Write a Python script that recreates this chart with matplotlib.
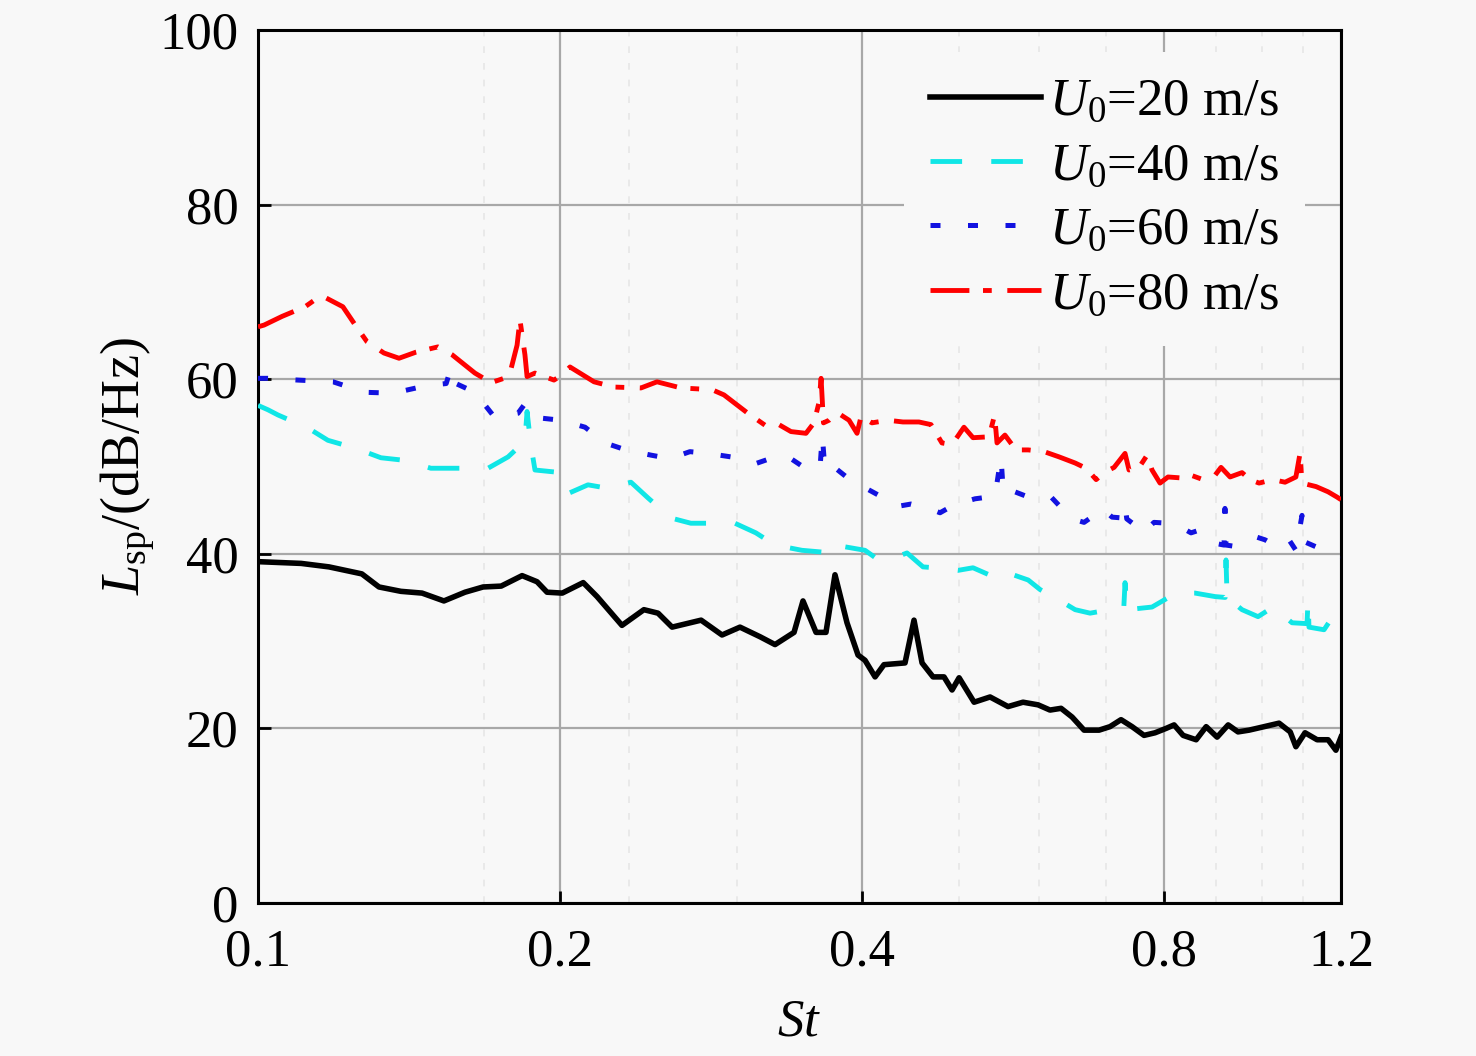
import matplotlib
matplotlib.use('Agg')
import matplotlib.pyplot as plt
from matplotlib.ticker import FixedLocator, NullFormatter

plt.rcParams['font.family'] = ['Liberation Serif', 'DejaVu Serif']
plt.rcParams['mathtext.fontset'] = 'custom'
plt.rcParams['mathtext.rm'] = 'Liberation Serif'
plt.rcParams['mathtext.it'] = 'Liberation Serif:italic'
plt.rcParams['font.size'] = 38

# U0 = 20 m/s
st_20 = [0.100, 0.1104, 0.1177, 0.1269, 0.1320, 0.1388, 0.1457, 0.1532, 0.1608, 0.1676,
         0.1747, 0.1833, 0.1897, 0.1941, 0.2010, 0.2109, 0.2177, 0.2305, 0.2424, 0.2504,
         0.2586, 0.2764, 0.2900, 0.3022, 0.3164, 0.3275, 0.3421, 0.3492, 0.3598, 0.3681,
         0.3758, 0.3863, 0.3962, 0.4026, 0.4120, 0.4205, 0.4413, 0.4505, 0.4589, 0.4706,
         0.4826, 0.4916, 0.4996, 0.5171, 0.5364, 0.5590, 0.5785, 0.5988, 0.6155, 0.6313,
         0.6475, 0.6655, 0.6888, 0.7063, 0.7244, 0.7430, 0.7637, 0.7833, 0.8033, 0.8182,
         0.8353, 0.8607, 0.8807, 0.9031, 0.9263, 0.9475, 0.9717, 1.006, 1.041, 1.068,
         1.082, 1.105, 1.136, 1.165, 1.186, 1.200]
lsp_20 = [39.1, 38.9, 38.5, 37.7, 36.2, 35.7, 35.5, 34.6, 35.6, 36.2,
          36.3, 37.5, 36.8, 35.6, 35.5, 36.7, 35.1, 31.8, 33.6, 33.2,
          31.6, 32.4, 30.7, 31.6, 30.5, 29.6, 31.0, 34.6, 31.0, 31.0,
          37.6, 32.1, 28.4, 27.8, 25.9, 27.3, 27.5, 32.4, 27.5, 25.9,
          25.9, 24.4, 25.8, 23.0, 23.6, 22.5, 23.0, 22.7, 22.1, 22.3,
          21.3, 19.8, 19.8, 20.2, 21.0, 20.2, 19.2, 19.5, 20.0, 20.4,
          19.2, 18.7, 20.2, 19.0, 20.4, 19.6, 19.8, 20.2, 20.6, 19.6,
          17.9, 19.5, 18.7, 18.7, 17.5, 19.0]

# U0 = 40 m/s
st_40 = [0.100, 0.1023, 0.1047, 0.1122, 0.1174, 0.1250, 0.1326, 0.1401, 0.1487, 0.1608,
         0.1695, 0.1775, 0.1829, 0.1845, 0.1854, 0.1870, 0.1888, 0.2004, 0.2046, 0.2132,
         0.2232, 0.2353, 0.2447, 0.2579, 0.2700, 0.2853, 0.2987, 0.3134, 0.3275, 0.3484,
         0.3648, 0.3741, 0.3845, 0.4026, 0.4129, 0.4322, 0.4433, 0.4599, 0.4727, 0.4983,
         0.5158, 0.5450, 0.5590, 0.5854, 0.6017, 0.6285, 0.6520, 0.6748, 0.7063, 0.7290,
         0.7311, 0.7345, 0.7778, 0.8218, 0.8585, 0.8988, 0.9200, 0.9217, 0.9240, 0.9562,
         0.9920, 1.0267, 1.0725, 1.1100, 1.1126, 1.1150, 1.1542, 1.1836, 1.200]
lsp_40 = [57.0, 56.5, 55.9, 54.4, 53.0, 52.1, 51.0, 50.7, 49.8, 49.8,
          49.8, 51.1, 52.5, 53.0, 56.3, 52.5, 49.6, 49.3, 47.0, 47.9,
          47.5, 48.2, 46.4, 44.1, 43.5, 43.5, 43.5, 42.4, 41.0, 40.4,
          40.2, 39.6, 40.8, 40.4, 39.5, 39.6, 40.1, 38.5, 38.4, 38.1,
          38.4, 37.2, 37.8, 37.0, 35.9, 34.7, 33.6, 33.2, 33.6, 33.8,
          36.7, 33.6, 33.9, 35.5, 35.5, 35.1, 35.0, 39.3, 35.0, 33.6,
          32.8, 33.9, 32.1, 32.0, 34.7, 31.6, 31.3, 33.2, 33.0]

# U0 = 60 m/s
st_60 = [0.100, 0.1023, 0.1096, 0.1188, 0.1278, 0.1363, 0.1477, 0.1540, 0.1557, 0.1575,
         0.1645, 0.1722, 0.1816, 0.1840, 0.1858, 0.2004, 0.2118, 0.2217, 0.2326, 0.2464,
         0.2573, 0.2694, 0.2808, 0.2960, 0.3127, 0.3275, 0.3366, 0.3500, 0.3631, 0.3650,
         0.3670, 0.3698, 0.3810, 0.3917, 0.4035, 0.4186, 0.4322, 0.4474, 0.4662, 0.4782,
         0.4938, 0.5076, 0.5182, 0.5425, 0.5500, 0.5530, 0.5590, 0.5827, 0.6017, 0.6171,
         0.6372, 0.6520, 0.6655, 0.6810, 0.6937, 0.7097, 0.7278, 0.7311, 0.7340, 0.7516,
         0.7620, 0.7814, 0.8069, 0.8294, 0.8506, 0.8664, 0.8824, 0.8988, 0.9175, 0.9195,
         0.9217, 0.9474, 0.9650, 0.9897, 1.0081, 1.0362, 1.0651, 1.082, 1.0973, 1.1024,
         1.1332, 1.165, 1.189, 1.200]
lsp_60 = [60.1, 60.1, 59.9, 59.7, 58.5, 58.4, 59.3, 59.5, 61.3, 59.5,
          58.5, 55.6, 56.1, 57.0, 55.7, 55.3, 54.5, 52.7, 51.9, 51.3,
          50.9, 51.7, 51.5, 51.1, 50.3, 51.1, 51.2, 49.9, 49.8, 53.6,
          50.0, 50.5, 49.3, 48.2, 47.5, 46.5, 45.4, 45.7, 45.2, 44.7,
          45.6, 46.0, 46.3, 46.6, 51.1, 47.0, 47.4, 46.6, 46.5, 46.5,
          44.8, 43.9, 43.6, 44.4, 45.2, 44.2, 44.1, 45.6, 44.0, 43.1,
          42.4, 43.6, 43.5, 43.1, 42.4, 42.7, 42.2, 41.2, 41.0, 45.2,
          41.0, 40.8, 41.2, 41.9, 41.6, 40.8, 41.6, 40.4, 44.4, 41.4,
          40.8, 40.1, 39.9, 39.7]

# U0 = 80 m/s
st_80 = [0.100, 0.1014, 0.1057, 0.1114, 0.1156, 0.1215, 0.1250, 0.1284, 0.1335, 0.1382,
         0.1437, 0.1511, 0.1561, 0.1645, 0.1707, 0.1779, 0.1812, 0.1824, 0.1845, 0.1854,
         0.1888, 0.1972, 0.2010, 0.2046, 0.2162, 0.2263, 0.2408, 0.2498, 0.2639, 0.2834,
         0.2913, 0.3077, 0.3222, 0.3304, 0.3397, 0.3516, 0.3581, 0.3622, 0.3640, 0.3660,
         0.3707, 0.3775, 0.3881, 0.3953, 0.3989, 0.4091, 0.4244, 0.4392, 0.4556, 0.4684,
         0.4803, 0.4915, 0.5052, 0.5158, 0.5351, 0.5420, 0.5450, 0.5550, 0.5692, 0.5854,
         0.6073, 0.6285, 0.6520, 0.6686, 0.6842, 0.6968, 0.7130, 0.7311, 0.7378, 0.7551,
         0.7691, 0.7778, 0.7922, 0.8069, 0.8294, 0.8506, 0.8743, 0.8988, 0.9112, 0.9303,
         0.9562, 0.9739, 0.9943, 1.0267, 1.0554, 1.082, 1.0923, 1.0973, 1.1332, 1.165,
         1.189, 1.200]
lsp_80 = [66.0, 66.2, 67.2, 68.3, 69.6, 68.3, 66.2, 64.3, 63.0, 62.4,
          63.1, 63.7, 62.8, 60.7, 59.6, 60.3, 63.9, 66.8, 62.8, 60.3,
          60.7, 59.9, 60.5, 61.4, 59.7, 59.1, 59.0, 59.7, 59.0, 58.8,
          58.2, 56.1, 54.5, 54.8, 54.0, 53.8, 55.0, 57.3, 60.1, 55.0,
          55.3, 56.2, 55.3, 53.8, 55.7, 55.0, 55.3, 55.1, 55.1, 54.8,
          52.7, 52.5, 54.5, 53.3, 53.4, 55.9, 52.7, 53.6, 51.9, 51.9,
          51.7, 51.1, 50.4, 49.8, 48.5, 49.3, 49.9, 51.5, 49.6, 49.9,
          51.3, 49.6, 48.1, 48.8, 48.7, 49.0, 48.5, 49.0, 49.9, 48.8,
          49.3, 48.5, 48.1, 48.5, 48.2, 48.8, 51.5, 48.1, 47.7, 47.1,
          46.5, 46.2]

labels = ['$U_0$=20 m/s', '$U_0$=40 m/s', '$U_0$=60 m/s', '$U_0$=80 m/s']
x_ticks = [0.1, 0.2, 0.4, 0.8, 1.2]
x_minor = [0.168, 0.234, 0.3, 0.5, 0.6, 0.7, 0.9, 1.0, 1.1]
y_ticks = [0, 20, 40, 60, 80, 100]

bg = '#f8f8f8'
fig = plt.figure(figsize=(14.76, 10.56), dpi=100, facecolor=bg)
ax = fig.add_axes([258/1476, 1 - 903/1056, (1341-258)/1476, (903-30)/1056])
ax.set_facecolor(bg)

ax.plot(st_20, lsp_20, color='black', lw=4, label=labels[0], zorder=5)
ax.plot(st_40, lsp_40, color='#10e6e6', lw=3.5, dashes=(6.5, 6), label=labels[1], zorder=4)
ax.plot(st_60, lsp_60, color='#1212e0', lw=3.6, dashes=(2, 5.5), label=labels[2], zorder=4)
ax.plot(st_80, lsp_80, color='#ff0000', lw=3.5, dashes=(8, 2.8, 1.8, 3.2), label=labels[3], zorder=4)

ax.set_xscale('log')
ax.set_xlim(0.1, 1.2)
ax.set_ylim(0, 100)
ax.xaxis.set_major_locator(FixedLocator(x_ticks))
ax.set_xticklabels([str(t) for t in x_ticks])
ax.xaxis.set_minor_locator(FixedLocator(x_minor))
ax.xaxis.set_minor_formatter(NullFormatter())
ax.set_yticks(y_ticks)

ax.grid(True, which='major', color='#a8a8a8', lw=1.6)
ax.grid(True, which='minor', axis='x', color='#e6e6e6', lw=1.2, ls=(0, (4, 6)))
ax.set_axisbelow(True)

ax.tick_params(which='major', direction='in', length=9, width=2, top=False, right=False)
ax.tick_params(axis='x', which='major', pad=18)
ax.tick_params(axis='y', which='major', pad=14)
ax.tick_params(which='minor', length=0)
for sp in ax.spines.values():
    sp.set_linewidth(2.2)

ax.set_xlabel('$St$', labelpad=16)
ax.set_ylabel('$L_{\\rm sp}$/(dB/Hz)', labelpad=2, fontsize=39)

leg = ax.legend(loc='upper right', bbox_to_anchor=(1 - 20/1083, 1 - 6/873), frameon=True,
                handlelength=2.1, handletextpad=0.15, labelspacing=0.31,
                borderaxespad=0.3, borderpad=0.5, fontsize=38)
leg.get_frame().set_facecolor(bg)
leg.get_frame().set_edgecolor('none')
leg.get_frame().set_alpha(1)

fig.savefig('out.png', dpi=100, facecolor=bg)
